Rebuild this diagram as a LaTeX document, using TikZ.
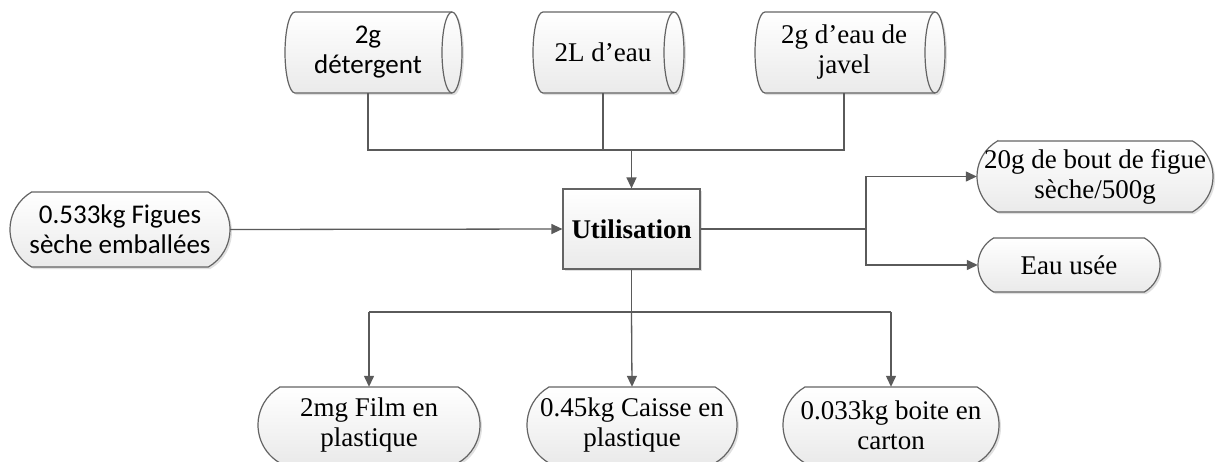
\documentclass[tikz,border=0pt]{standalone}
\usepackage{fontspec}
\setmainfont{Liberation Serif}
\newfontfamily\calfont{Carlito}
\usetikzlibrary{arrows.meta}

\definecolor{edge}{HTML}{5A5A5A}
\definecolor{rim}{HTML}{646464}
\definecolor{shadecol}{HTML}{EAEAEA}
\definecolor{shadowcol}{HTML}{E0E0E0}

\tikzset{
  line/.style={draw=edge, line width=1.3pt},
  arrow/.style={line, -{Triangle[length=11pt,width=10pt]}},
  outline/.style={draw=rim, line width=1.2pt, top color=white, bottom color=shadecol},
  dropshadow/.style={fill=shadowcol},
  label/.style={inner sep=0pt, align=center, font=\fontsize{27}{30}\selectfont},
  procbox/.style={draw=rim, line width=1.2pt, top color=white, bottom color=shadecol,
    inner sep=0pt, font=\fontsize{27}{30}\selectfont\bfseries},
}

% terminal with flat circular ends: name, cx, cy (pixels, downwards), width, height, text
\newcommand\terminal[6]{%
  \pgfmathsetmacro\tr{#5/sqrt(3)}%
  \foreach \dx/\dy/\sty in {2/-2/dropshadow, 0/0/outline}{%
    \path[\sty, shift={(\dx,\dy)}]
      ({#2-#4/2+\tr/2},{-(#3)+#5/2}) -- ({#2+#4/2-\tr/2},{-(#3)+#5/2})
      arc[start angle=60, end angle=-60, radius=\tr]
      -- ({#2-#4/2+\tr/2},{-(#3)-#5/2})
      arc[start angle=240, end angle=120, radius=\tr] -- cycle;
  }%
  \node[label, minimum width=#4pt, minimum height=#5pt] (#1) at (#2,{-(#3)}) {#6};
}

% horizontal drum: name, text centre x, left edge x, cap centre x, text
\newcommand\drum[5]{%
  \foreach \dx/\dy/\sty in {2/-2/dropshadow, 0/0/outline}{%
    \path[\sty, shift={(\dx,\dy)}]
      (#3,-12) -- (#4,-12)
      arc[start angle=90, end angle=-90, x radius=10, y radius=40.5]
      -- (#3,-93)
      arc[start angle=270, end angle=90, x radius=10, y radius=40.5] -- cycle;
  }%
  \draw[draw=rim, line width=1.2pt] (#4,-12)
      arc[start angle=90, end angle=270, x radius=10, y radius=40.5];
  \node[label, minimum width=10pt, minimum height=81pt] (#1) at (#2,-52.5) {#5};
}

\begin{document}
\begin{tikzpicture}[x=1pt, y=1pt]
  \useasboundingbox[fill=white] (0,0) rectangle (1220,-461);

  % inputs
  \drum{det}{368}{295}{452}{\calfont 2g\\\calfont détergent}
  \drum{water}{603}{543}{674}{2L d’eau}
  \drum{bleach}{844}{765}{935}{2g d’eau de\\javel}

  % process
  \path[dropshadow] (565,-191) rectangle (702,-271);
  \node[procbox, minimum width=137pt, minimum height=80pt] (util) at (631.5,-229) {Utilisation};

  % main flow in
  \terminal{figs}{120}{229.5}{220}{75}{\calfont 0.533kg Figues\\\calfont sèche emballées}

  % outputs right
  \terminal{ends}{1095}{176.5}{236}{71}{20g de bout de figue\\sèche/500g}
  \terminal{waste}{1069}{265}{182}{54}{Eau usée}

  % outputs below
  \terminal{film}{369}{425}{222}{76}{2mg Film en\\plastique}
  \terminal{crate}{632}{425}{210}{76}{0.45kg Caisse en\\plastique}
  \terminal{carton}{891}{425}{216}{76}{0.033kg boite en\\carton}

  % junction points
  \coordinate (jtop) at (631.5,-150);
  \coordinate (jright) at (866,-229);
  \coordinate (jbot) at (631.5,-312);

  % connectors
  \draw[line] (det.south) |- (bleach.south |- jtop) -- (bleach.south);
  \draw[line] (water.south) -- (water.south |- jtop);
  \draw[arrow] (jtop) -- (util.north);

  \draw[arrow] (figs.east) -- (util.west);

  \draw[line] (util.east) -- (jright);
  \draw[arrow] (jright) |- (ends.west);
  \draw[arrow] (jright) |- (waste.west);

  \draw[line] (util.south) -- (jbot);
  \draw[line] (film.north |- jbot) -- (carton.north |- jbot);
  \draw[arrow] (film.north |- jbot) -- (film.north);
  \draw[arrow] (jbot) -- (crate.north);
  \draw[arrow] (carton.north |- jbot) -- (carton.north);
\end{tikzpicture}
\end{document}
